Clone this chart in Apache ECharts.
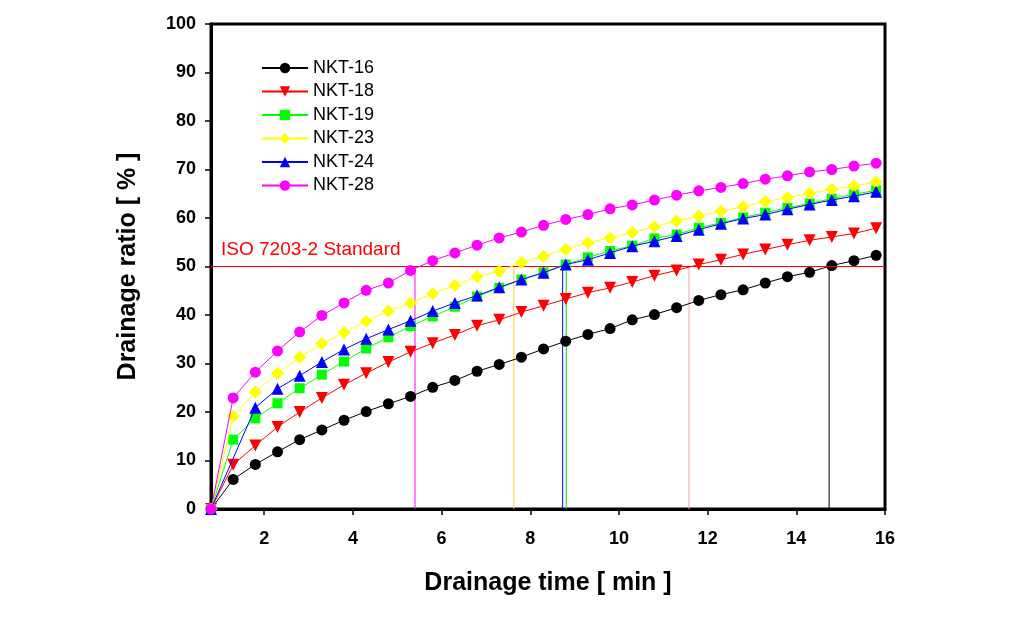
<!DOCTYPE html>
<html>
<head>
<meta charset="utf-8">
<script src="https://cdn.jsdelivr.net/npm/echarts@6/dist/echarts.min.js"></script>
<style>html,body{margin:0;padding:0;background:#fff;}#chart{width:1022px;height:639px;}</style>
</head>
<body>
<div id="chart"></div>
<script>
var timeMain = [0.8, 1.3, 1.8, 2.3, 2.8, 3.3, 3.8, 4.3, 4.8, 5.3, 5.8, 6.3, 6.8, 7.3, 7.8, 8.3, 8.8, 9.3, 9.8, 10.3, 10.8, 11.3, 11.8, 12.3, 12.8, 13.3, 13.8, 14.3, 14.8, 15.3, 15.8];
var time24 = [0.8, 1.8, 2.3, 2.8, 3.3, 3.8, 4.3, 4.8, 5.3, 5.8, 6.3, 6.8, 7.3, 7.8, 8.3, 8.8, 9.3, 9.8, 10.3, 10.8, 11.3, 11.8, 12.3, 12.8, 13.3, 13.8, 14.3, 14.8, 15.3, 15.8];
var nkt16 = [0, 6.1, 9.2, 11.8, 14.3, 16.3, 18.3, 20.1, 21.7, 23.2, 25.1, 26.5, 28.4, 29.8, 31.3, 33.0, 34.6, 36.0, 37.2, 39.0, 40.1, 41.5, 43.0, 44.2, 45.2, 46.6, 47.9, 48.8, 50.2, 51.2, 52.3];
var nkt18 = [0, 9.1, 13.1, 16.9, 20.0, 22.9, 25.6, 28.0, 30.3, 32.4, 34.2, 35.9, 37.8, 39.0, 40.6, 41.9, 43.3, 44.6, 45.6, 46.8, 48.1, 49.2, 50.4, 51.4, 52.5, 53.5, 54.5, 55.4, 56.1, 56.8, 57.9];
var nkt19 = [0, 14.3, 18.7, 21.8, 24.9, 27.7, 30.4, 33.1, 35.4, 37.7, 39.7, 41.7, 43.8, 45.6, 47.3, 48.8, 50.4, 51.9, 53.2, 54.3, 55.8, 56.6, 58.0, 59.0, 60.1, 61.1, 62.1, 63.0, 64.0, 64.9, 65.7];
var nkt23 = [0, 19.1, 24.1, 28.0, 31.3, 34.1, 36.4, 38.7, 40.8, 42.5, 44.4, 46.1, 47.9, 49.0, 50.8, 52.1, 53.5, 54.9, 55.9, 57.0, 58.2, 59.4, 60.4, 61.4, 62.3, 63.4, 64.2, 65.1, 65.9, 66.6, 67.4];
var nkt24 = [0, 20.9, 24.8, 27.5, 30.3, 32.9, 35.1, 37.0, 38.8, 40.8, 42.5, 44.0, 45.7, 47.3, 48.7, 50.4, 51.4, 52.8, 54.2, 55.2, 56.3, 57.6, 58.8, 59.9, 60.7, 61.8, 62.8, 63.7, 64.5, 65.4];
var nkt28 = [0, 22.9, 28.2, 32.6, 36.5, 39.9, 42.5, 45.1, 46.6, 49.2, 51.2, 52.8, 54.4, 55.9, 57.1, 58.5, 59.7, 60.7, 61.9, 62.7, 63.7, 64.7, 65.6, 66.3, 67.1, 68.0, 68.7, 69.5, 70.0, 70.7, 71.3];
var seriesNames = ['NKT-16', 'NKT-18', 'NKT-19', 'NKT-23', 'NKT-24', 'NKT-28'];
var crossTimes = [14.74, 11.58, 8.81, 7.63, 8.73, 5.40];
var standardLevel = 50;
var standardLabel = 'ISO 7203-2 Standard';
var xTicks = [2, 4, 6, 8, 10, 12, 14, 16];

var FONT = 'Arial, "Liberation Sans", sans-serif';
function pairs(xs, ys) { return xs.map(function (x, i) { return [x, ys[i]]; }); }

var styles = [
  { color: '#000000', symbol: 'circle', size: 11, rot: 0, cross: '#000000' },
  { color: '#ff0000', symbol: 'triangle', size: 12, rot: 180, cross: '#f4a3a3' },
  { color: '#00ff00', symbol: 'rect', size: 10, rot: 0, cross: '#00dd00' },
  { color: '#ffff00', symbol: 'diamond', size: 13, rot: 0, cross: '#f0d040' },
  { color: '#0000ff', symbol: 'triangle', size: 12, rot: 0, cross: '#0000ff' },
  { color: '#ff00ff', symbol: 'circle', size: 11, rot: 0, cross: '#ff00ff' }
];
var dataSets = [
  pairs(timeMain, nkt16), pairs(timeMain, nkt18), pairs(timeMain, nkt19),
  pairs(timeMain, nkt23), pairs(time24, nkt24), pairs(timeMain, nkt28)
];

var series = [];
crossTimes.forEach(function (t, i) {
  series.push({
    type: 'line', name: 'cross' + i, silent: true, symbol: 'none',
    data: [[t, 0], [t, standardLevel]],
    lineStyle: { color: styles[i].cross, width: 1 }, z: 1, animation: false
  });
});
series.push({
  type: 'line', name: 'std', silent: true, symbol: 'none',
  data: [[0.8, standardLevel], [16, standardLevel]],
  lineStyle: { color: '#ff0000', width: 1 }, z: 1, animation: false,
  markLine: {
    silent: true, symbol: ['none', 'none'], animation: false,
    lineStyle: { color: '#ff0000', width: 1, type: 'solid' },
    label: { show: true, position: 'insideStartTop', formatter: standardLabel, color: '#ff0000',
      fontFamily: FONT, fontSize: 19, distance: [10, 7] },
    data: [{ yAxis: standardLevel }]
  }
});
seriesNames.forEach(function (n, i) {
  var s = styles[i];
  series.push({
    type: 'line', name: n, data: dataSets[i],
    symbol: s.symbol, symbolSize: s.size, symbolRotate: s.rot,
    itemStyle: { color: s.color, borderWidth: 0 },
    lineStyle: { color: s.color, width: 1 },
    z: 3 + i, animation: false
  });
});

var chart = echarts.init(document.getElementById('chart'));
chart.setOption({
  backgroundColor: '#ffffff',
  animation: false,
  grid: { left: 211, right: 137, top: 24, bottom: 130, show: true, borderColor: '#000', borderWidth: 3, backgroundColor: 'transparent' },
  legend: {
    data: seriesNames, orient: 'vertical', left: 256, top: 54,
    itemWidth: 46, itemHeight: 13, itemGap: 5.5, itemTextGap: 11,
    textStyle: { fontFamily: FONT, fontSize: 18, color: '#000' },
    selectedMode: false
  },
  xAxis: {
    type: 'value', min: 0.8, max: 16,
    name: 'Drainage time [ min ]', nameLocation: 'middle', nameGap: 62,
    nameTextStyle: { fontFamily: FONT, fontSize: 25, fontWeight: 'bold', color: '#000' },
    axisLine: { show: true, onZero: false, lineStyle: { color: '#000', width: 3 } },
    axisTick: { show: true, inside: false, length: 6, lineStyle: { color: '#000', width: 1.5 }, customValues: xTicks },
    axisLabel: { fontFamily: FONT, fontSize: 18, fontWeight: 'bold', color: '#000', margin: 21, customValues: xTicks },
    splitLine: { show: false }
  },
  yAxis: {
    type: 'value', min: 0, max: 100, interval: 10,
    name: 'Drainage ratio [ % ]', nameLocation: 'middle', nameGap: 70,
    nameTextStyle: { fontFamily: FONT, fontSize: 25, fontWeight: 'bold', color: '#000' },
    axisLine: { show: true, lineStyle: { color: '#000', width: 3 } },
    axisTick: { show: true, inside: false, length: 6, lineStyle: { color: '#000', width: 1.5 } },
    axisLabel: { fontFamily: FONT, fontSize: 18, fontWeight: 'bold', color: '#000', margin: 15 },
    splitLine: { show: false }
  },
  series: series
});
</script>
</body>
</html>
